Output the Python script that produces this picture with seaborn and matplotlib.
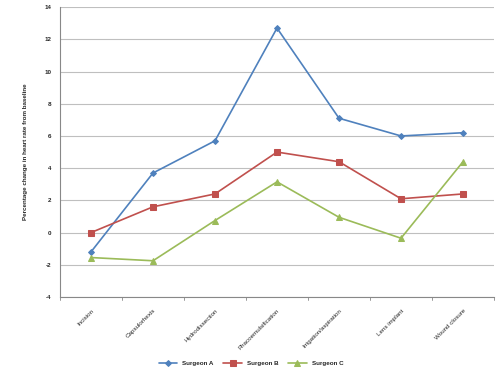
import pandas as pd
import matplotlib
matplotlib.use("Agg")
import matplotlib.pyplot as plt
import seaborn as sns

# --- chart data ---
steps = ['Incision', 'Capsulorhexis', 'Hydrodissection', 'Phacoemulsification',
         'Irrigation/aspiration', 'Lens implant', 'Wound closure']
surgeon_a = [-1.2, 3.7, 5.7, 12.7, 7.1, 6.0, 6.2]
surgeon_b = [0.0, 1.6, 2.4, 5.0, 4.4, 2.1, 2.4]
surgeon_c = [-1.55, -1.75, 0.75, 3.15, 0.95, -0.35, 4.4]
series_names = ['Surgeon A', 'Surgeon B', 'Surgeon C']
y_ticks = [-4, -2, 0, 2, 4, 6, 8, 10, 12, 14]

colors = ['#4F81BD', '#C0504D', '#9BBB59']
markers = ['D', 's', '^']

df = pd.DataFrame({'step': steps * 3,
                   'pos': list(range(len(steps))) * 3,
                   'value': surgeon_a + surgeon_b + surgeon_c,
                   'surgeon': [n for n in series_names for _ in steps]})

sns.set_style("white")
plt.rcParams['font.family'] = ['Liberation Sans', 'DejaVu Sans']

fig = plt.figure(figsize=(5, 3.75), dpi=100)
ax = fig.add_axes([0.12, 0.208, 0.868, 0.773])

for y in y_ticks:
    ax.axhline(y, color='#BFBFBF', linewidth=0.8, zorder=0)

for name, col, mk in zip(series_names, colors, markers):
    sub = df[df['surgeon'] == name]
    ms = 3 if mk == 'D' else 4
    sns.lineplot(data=sub, x='pos', y='value', ax=ax, color=col, marker=mk,
                 markersize=ms, markeredgecolor=col, linewidth=1.2, label=name,
                 zorder=3)

ax.set_xlim(-0.5, len(steps) - 0.5)
ax.set_ylim(-4, 14)
ax.set_yticks(y_ticks)
ax.set_yticklabels([str(t) for t in y_ticks], fontsize=4.5, fontweight='bold')
ax.set_xticks(range(len(steps)))
ax.set_xticklabels(steps, rotation=45, ha='right', rotation_mode='anchor',
                   fontsize=4.5)
ax.tick_params(axis='x', length=0, pad=8)
ax.tick_params(axis='y', length=2, width=0.6, color='#888888', pad=4)

# boundary tick marks on the category axis
for b in range(len(steps) + 1):
    ax.plot([b - 0.5, b - 0.5], [-4, -4.2], color='#888888', linewidth=0.6,
            clip_on=False)

ax.set_xlabel('')
ax.set_ylabel('Percentage change in heart rate from baseline', fontsize=4.5,
              fontweight='bold', labelpad=12)

for side in ['top', 'right']:
    ax.spines[side].set_visible(False)
for side in ['left', 'bottom']:
    ax.spines[side].set_color('#888888')
    ax.spines[side].set_linewidth(0.8)

leg = ax.legend(loc='upper center', bbox_to_anchor=(0.44, -0.2), ncol=3,
                frameon=False, prop={'size': 4.5, 'weight': 'bold'},
                handlelength=3, columnspacing=1.5)

fig.savefig('out.png', dpi=100)
